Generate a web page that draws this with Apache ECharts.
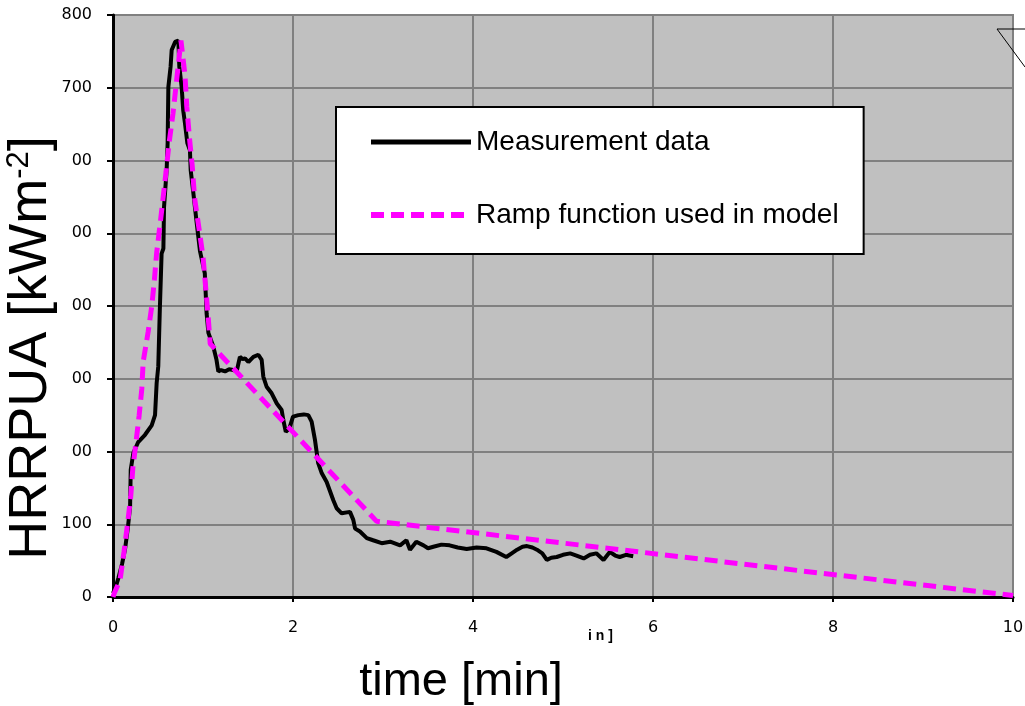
<!DOCTYPE html>
<html>
<head>
<meta charset="utf-8"/>
<title>HRRPUA measurement vs ramp</title>
<script src="https://cdn.jsdelivr.net/npm/echarts@6/dist/echarts.min.js"></script>
<style>
    html, body { margin: 0; padding: 0; background: #fff; }
    #chart { width: 1025px; height: 706px; }
</style>
</head>
<body>
<div id="chart"></div>
<script>
var measTime = [0.00, 0.03, 0.06, 0.10, 0.133, 0.165, 0.19, 0.197, 0.226, 0.28, 0.356, 0.43, 0.467, 0.485, 0.503,
    0.52, 0.54, 0.56, 0.567, 0.596, 0.607, 0.615, 0.64, 0.652, 0.69, 0.726, 0.737, 0.763, 0.78, 0.80,
    0.826, 0.855, 0.863, 0.893, 0.93, 0.967, 1.02, 1.04, 1.06, 1.115, 1.15, 1.17, 1.20, 1.245, 1.29,
    1.337, 1.374, 1.41, 1.44, 1.467, 1.504, 1.56, 1.615, 1.652, 1.67, 1.707, 1.763, 1.82, 1.874, 1.893,
    1.92, 1.96, 2.0, 2.06, 2.12, 2.17, 2.207, 2.244, 2.28, 2.32, 2.374, 2.448, 2.485, 2.54, 2.633,
    2.67, 2.69, 2.744, 2.82, 2.89, 2.985, 3.08, 3.19, 3.26, 3.30, 3.37, 3.45, 3.50, 3.56, 3.65,
    3.74, 3.83, 3.93, 4.04, 4.15, 4.26, 4.37, 4.43, 4.49, 4.55, 4.60, 4.66, 4.71, 4.77, 4.82,
    4.87, 4.93, 5.00, 5.08, 5.15, 5.23, 5.30, 5.37, 5.45, 5.52, 5.58, 5.63, 5.70, 5.78];
var measHrr = [5, 14, 26, 45, 65, 95, 124, 175, 198, 213, 223, 236, 250, 294, 317,
    394, 472, 479, 536, 587, 624, 701, 729, 752, 763, 765, 729, 701, 669, 651,
    624, 614, 587, 555, 514, 475, 445, 390, 363, 344, 326, 310, 312, 310, 313,
    312, 310, 330, 327, 328, 323, 330, 333, 326, 303, 289, 280, 266, 257, 243,
    227, 232, 248, 250, 251, 250, 241, 216, 184, 170, 158, 133, 122, 115, 117,
    106, 94, 90, 81, 78, 74, 76, 71, 78, 65, 76, 71, 67, 69, 72,
    71, 68, 66, 68, 67, 62, 55, 60, 65, 69, 70, 68, 65, 60, 51,
    54, 55, 58, 60, 57, 53, 58, 60, 51, 62, 57, 55, 58, 56];

// ramp used in the model
var rampTime = [0, 0.02, 0.078, 0.122, 0.163, 0.197, 0.22, 0.256, 0.29, 0.32, 0.335, 0.39, 0.43, 0.46, 0.485,
    0.522, 0.556, 0.589, 0.622, 0.667, 0.755, 0.80, 0.82, 0.848, 0.88, 0.907, 0.955, 1.0, 1.03, 1.06,
    1.08, 2.93, 10];
var rampHrr = [0, 7, 23, 62, 102, 138, 177, 213, 249, 286, 323, 364, 399, 436, 473,
    511, 548, 584, 623, 665, 765, 717, 674, 633, 593, 548, 507, 468, 425, 381,
    348, 104, 2];

var xTicks = [0, 2, 4, 6, 8, 10];
var yTicks = [0, 100, 200, 300, 400, 500, 600, 700, 800];

function pairs(xs, ys) {
    var out = [];
    for (var i = 0; i < xs.length; i++) out.push([xs[i], ys[i]]);
    return out;
}

var myChart = echarts.init(document.getElementById('chart'));
var labelFont = 'DejaVu Sans';
// legend shows only the line sample, no marker
var noMarker = { color: 'rgba(0,0,0,0)', borderWidth: 0, opacity: 0 };
var option = {
    animation: false,
    backgroundColor: '#ffffff',
    grid: {
        left: 113, top: 15, right: 12, bottom: 109,
        outerBoundsMode: 'none',
        show: true, backgroundColor: '#c0c0c0', borderColor: '#808080', borderWidth: 2
    },
    legend: {
        orient: 'vertical', left: 336, top: 107,
        padding: [21, 25, 25, 32], itemGap: 45, itemWidth: 100, itemHeight: 14,
        backgroundColor: '#ffffff', borderColor: '#000000', borderWidth: 2,
        textStyle: { fontSize: 28, fontFamily: 'Liberation Sans', color: '#000' },
        data: [
            { name: 'Measurement data', lineStyle: { width: 5 }, itemStyle: noMarker },
            { name: 'Ramp function used in model', lineStyle: { width: 6 }, itemStyle: noMarker }
        ]
    },
    xAxis: {
        type: 'value', min: xTicks[0], max: xTicks[xTicks.length - 1], interval: 2,
        name: 'time [min]', nameLocation: 'middle', nameGap: 62,
        nameTextStyle: { fontSize: 47, fontFamily: 'Liberation Sans', color: '#000', padding: [0, 204, 0, 0] },
        axisLine: { lineStyle: { color: '#000', width: 3 } },
        axisTick: { inside: false, length: 5, lineStyle: { color: '#000', width: 2 } },
        axisLabel: { margin: 23, fontSize: 16, fontFamily: labelFont, color: '#000' },
        splitLine: { show: true, lineStyle: { color: '#808080', width: 2 } }
    },
    yAxis: {
        type: 'value', min: yTicks[0], max: yTicks[yTicks.length - 1], interval: 100,
        axisLine: { show: true, lineStyle: { color: '#000', width: 3 } },
        axisTick: { show: true, inside: false, length: 6, lineStyle: { color: '#000', width: 2 } },
        axisLabel: { margin: 21, fontSize: 16, fontFamily: labelFont, color: '#000' },
        splitLine: { show: true, lineStyle: { color: '#808080', width: 2 } }
    },
    graphic: [
        // white axis-title box that hides the first digit of the middle tick labels
        { type: 'rect', z: 50, shape: { x: 0, y: 120, width: 71, height: 370 }, style: { fill: '#ffffff' } },
        {
            type: 'text', z: 60, x: 31, y: 348, rotation: Math.PI / 2,
            style: {
                text: '{a|HRRPUA [kWm}{b|-2}{a|]}',
                align: 'center', verticalAlign: 'middle',
                rich: {
                    a: { fontSize: 54, fontFamily: 'Liberation Sans', fill: '#000' },
                    b: { fontSize: 31, fontFamily: 'Liberation Sans', fill: '#000', verticalAlign: 'top' }
                }
            }
        },
        {
            type: 'text', z: 60, x: 588, y: 636,
            style: { text: 'i n ]', font: 'bold 14px Liberation Sans', fill: '#000', verticalAlign: 'middle' }
        },
        {
            type: 'polyline', z: 60,
            shape: { points: [[1025, 29], [997, 29], [1025, 67]] },
            style: { stroke: '#000', lineWidth: 1, fill: null }
        }
    ],
    series: [
        {
            name: 'Measurement data', type: 'line', symbol: 'none', showSymbol: false,
            color: '#000', lineStyle: { color: '#000', width: 4 },
            data: pairs(measTime, measHrr), z: 2
        },
        {
            name: 'Ramp function used in model', type: 'line', symbol: 'none', showSymbol: false,
            color: '#ff00ff', lineStyle: { color: '#ff00ff', width: 5, type: [13, 7] },
            data: pairs(rampTime, rampHrr), z: 3
        }
    ]
};
myChart.setOption(option);
</script>
</body>
</html>
